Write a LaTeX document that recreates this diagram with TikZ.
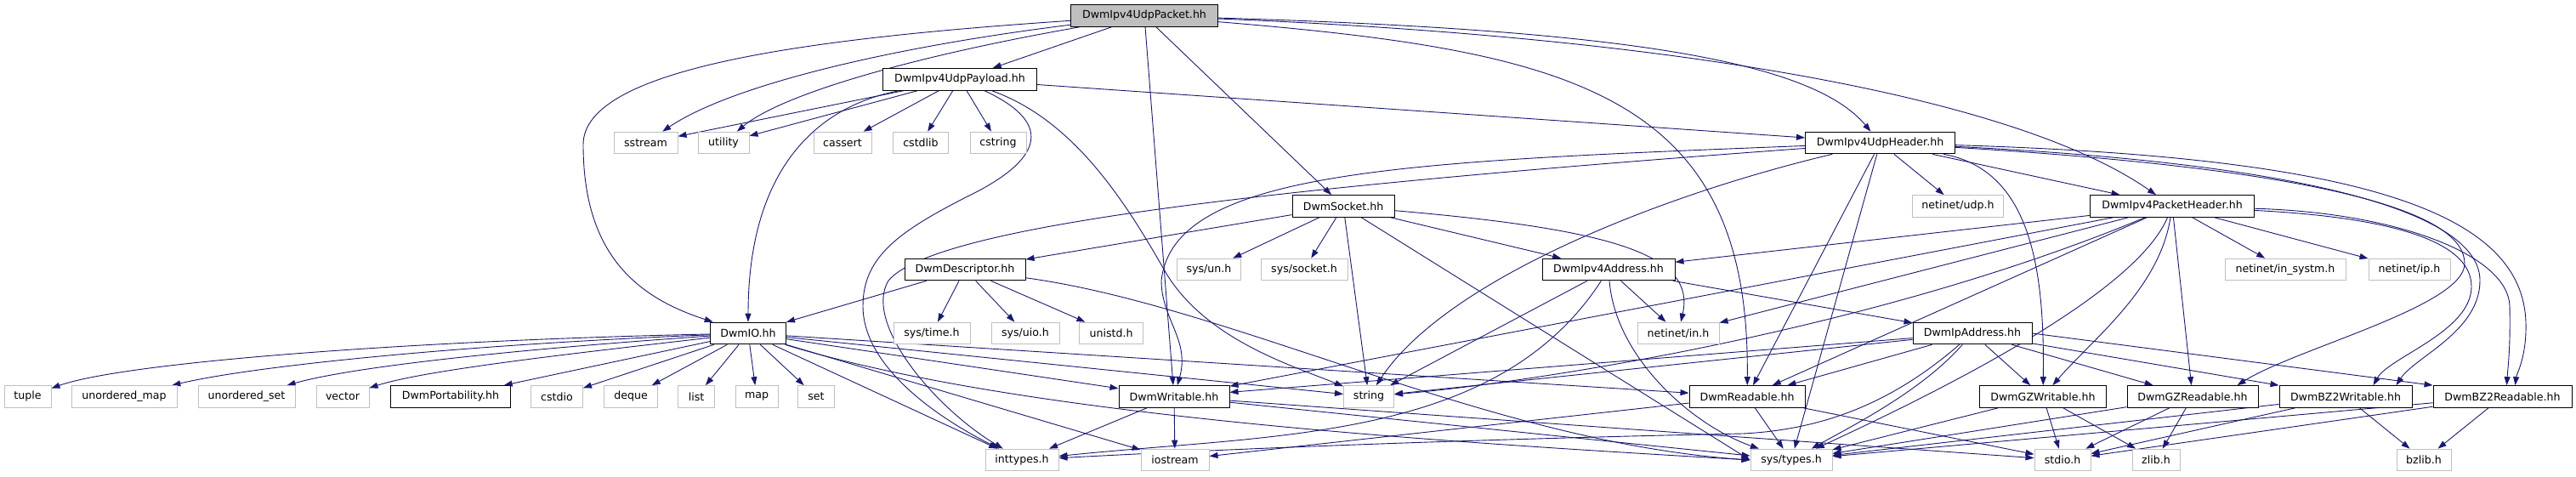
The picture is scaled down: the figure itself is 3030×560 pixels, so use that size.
\documentclass[tikz,border=0pt]{standalone}
\usepackage{fontspec}
\setmainfont{DejaVu Sans}
\usetikzlibrary{arrows.meta}
\definecolor{edgec}{HTML}{191970}
\definecolor{sysb}{HTML}{BFBFBF}
\pgfdeclarelayer{bg}
\pgfsetlayers{bg,main}
\tikzset{
 base/.style={draw, minimum height=25.7pt, inner sep=0pt, font=\fontsize{12.6}{14}\selectfont, line width=1pt},
 sysn/.style={base, draw=sysb, fill=white},
 prj/.style={base, draw=black, fill=white},
 rootn/.style={base, draw=black, fill=sysb},
 dep/.style={draw=edgec, line width=0.9pt, -{Triangle[length=10pt,width=7pt]}}
}
\begin{document}
\begin{tikzpicture}[x=1pt,y=-1pt]
\useasboundingbox (0,0) rectangle (3030,560);
% row 0
\node[rootn, minimum width=173pt] (P) at (1346,18.5) {DwmIpv4UdpPacket.hh};
% row 1
\node[prj, minimum width=181pt] (Pay) at (1129,93.3) {DwmIpv4UdpPayload.hh};
% row 2
\node[sysn, minimum width=75pt] (sstream) at (759.5,168) {sstream};
\node[sysn, minimum width=60pt] (utility) at (851,168) {utility};
\node[sysn, minimum width=68pt] (cassert) at (991,168) {cassert};
\node[sysn, minimum width=65pt] (cstdlib) at (1083,168) {cstdlib};
\node[sysn, minimum width=66pt] (cstring) at (1174,168) {cstring};
\node[prj, minimum width=176pt] (Hdr) at (2211.5,168) {DwmIpv4UdpHeader.hh};
% row 3
\node[prj, minimum width=120pt] (Sock) at (1580,242.5) {DwmSocket.hh};
\node[sysn, minimum width=107pt] (udp) at (2303,242.5) {netinet/udp.h};
\node[prj, minimum width=193pt] (PH) at (2555,242.5) {DwmIpv4PacketHeader.hh};
% row 4
\node[prj, minimum width=142pt] (Desc) at (1135,317) {DwmDescriptor.hh};
\node[sysn, minimum width=75pt] (un) at (1422,317) {sys/un.h};
\node[sysn, minimum width=102pt] (syssock) at (1534,317) {sys/socket.h};
\node[prj, minimum width=156pt] (Ipv4) at (1892,317) {DwmIpv4Address.hh};
\node[sysn, minimum width=142pt] (systm) at (2688,317) {netinet/in\_systm.h};
\node[sysn, minimum width=96pt] (iph) at (2834,317) {netinet/ip.h};
% row 5
\node[prj, minimum width=89pt] (IO) at (880,392) {DwmIO.hh};
\node[sysn, minimum width=90pt] (time) at (1096,392) {sys/time.h};
\node[sysn, minimum width=80pt] (uio) at (1206,392) {sys/uio.h};
\node[sysn, minimum width=75pt] (unistd) at (1307,392) {unistd.h};
\node[sysn, minimum width=96pt] (netin) at (1974,392) {netinet/in.h};
\node[prj, minimum width=140pt] (IpA) at (2320,392) {DwmIpAddress.hh};
% row 6
\node[sysn, minimum width=55pt] (tuple) at (32.5,466.5) {tuple};
\node[sysn, minimum width=124pt] (umap) at (146,466.5) {unordered\_map};
\node[sysn, minimum width=114pt] (uset) at (290,466.5) {unordered\_set};
\node[sysn, minimum width=62pt] (vector) at (403,466.5) {vector};
\node[prj, minimum width=141pt] (Port) at (530,466.5) {DwmPortability.hh};
\node[sysn, minimum width=61pt] (cstdio) at (655,466.5) {cstdio};
\node[sysn, minimum width=63pt] (deque) at (742,466.5) {deque};
\node[sysn, minimum width=43pt] (list) at (819,466.5) {list};
\node[sysn, minimum width=50pt] (mapn) at (890,466.5) {map};
\node[sysn, minimum width=43pt] (setn) at (960,466.5) {set};
\node[prj, minimum width=130pt] (Wr) at (1381,466.5) {DwmWritable.hh};
\node[sysn, minimum width=59pt] (string) at (1610,466.5) {string};
\node[prj, minimum width=136pt] (Rd) at (2055,466.5) {DwmReadable.hh};
\node[prj, minimum width=149pt] (GZW) at (2403,466.5) {DwmGZWritable.hh};
\node[prj, minimum width=154pt] (GZR) at (2579,466.5) {DwmGZReadable.hh};
\node[prj, minimum width=156pt] (BZW) at (2759,466.5) {DwmBZ2Writable.hh};
\node[prj, minimum width=163pt] (BZR) at (2943.5,466.5) {DwmBZ2Readable.hh};
% row 7
\node[sysn, minimum width=86pt] (inttypes) at (1202,541) {inttypes.h};
\node[sysn, minimum width=80pt] (iostream) at (1382,541) {iostream};
\node[sysn, minimum width=96pt] (systypes) at (2107,541) {sys/types.h};
\node[sysn, minimum width=66pt] (stdio) at (2426,541) {stdio.h};
\node[sysn, minimum width=56pt] (zlib) at (2536,541) {zlib.h};
\node[sysn, minimum width=64pt] (bzlib) at (2851,541) {bzlib.h};

\begin{pgfonlayer}{bg}
% DwmIpv4UdpPacket.hh
\draw[dep] (P) -- (Pay);
\draw[dep] (P) .. controls (1050,55) and (860,100) .. (sstream);
\draw[dep] (P) .. controls (1080,65) and (920,110) .. (utility);
\draw[dep] (P) .. controls (950,45) and (686,80) .. (686,170) .. controls (686,300) and (750,350) .. (IO);
\draw[dep] (P) -- (Sock);
\draw[dep] (P) -- (Wr);
\draw[dep] (P) .. controls (1850,60) and (2059,110) .. (Rd);
\draw[dep] (P) .. controls (1900,35) and (2130,70) .. (Hdr);
\draw[dep] (P) .. controls (2000,45) and (2380,120) .. (PH);
% DwmIpv4UdpPayload.hh
\draw[dep] (Pay) -- (sstream);
\draw[dep] (Pay) -- (utility);
\draw[dep] (Pay) -- (cassert);
\draw[dep] (Pay) -- (cstdlib);
\draw[dep] (Pay) -- (cstring);
\draw[dep] (Pay) .. controls (960,125) and (880,200) .. (IO);
\draw[dep] (Pay) .. controls (1230,140) and (1235,180) .. (1150,225) .. controls (1060,270) and (1015,300) .. (1015,360) .. controls (1015,430) and (1100,490) .. (inttypes);
\draw[dep] (Pay) .. controls (1260,140) and (1320,230) .. (1372,322) .. controls (1420,400) and (1520,430) .. (string);
\draw[dep] (Pay) -- (Hdr);
% DwmIpv4UdpHeader.hh
\draw[dep] (Hdr) -- (udp);
\draw[dep] (Hdr) -- (PH);
\draw[dep] (Hdr) .. controls (1950,230) and (1700,330) .. (string);
\draw[dep] (Hdr) -- (Rd);
\draw[dep] (Hdr) -- (systypes);
\draw[dep] (Hdr) .. controls (1650,190) and (1380,200) .. (1366,330) .. controls (1366,375) and (1400,400) .. (Wr);
\draw[dep] (Hdr) .. controls (1500,220) and (1100,265) .. (1045,330) .. controls (1015,380) and (1100,480) .. (inttypes);
\draw[dep] (Hdr) .. controls (2390,200) and (2405,320) .. (GZW);
\draw[dep] (Hdr) .. controls (2740,200) and (2899,250) .. (2899,310) .. controls (2899,360) and (2700,410) .. ([xshift=-25pt]GZR.north east);
\draw[dep] (Hdr) .. controls (2760,195) and (2917,260) .. (2917,330) .. controls (2917,390) and (2840,420) .. ([xshift=-19pt]BZW.north east);
\draw[dep] (Hdr) .. controls (2780,185) and (2968,250) .. (2971,380) .. controls (2972,420) and (2960,440) .. ([xshift=15pt]BZR.north);
% DwmSocket.hh
\draw[dep] (Sock) -- (Desc);
\draw[dep] (Sock) -- (un);
\draw[dep] (Sock) -- (syssock);
\draw[dep] (Sock) -- (string);
\draw[dep] (Sock) -- (systypes.west);
\draw[dep] (Sock) -- (Ipv4);
\draw[dep] (Sock) .. controls (1900,270) and (1995,300) .. (netin);
% DwmIpv4PacketHeader.hh
\draw[dep] (PH) -- (Ipv4);
\draw[dep] (PH) -- (netin);
\draw[dep] (PH) -- (systm);
\draw[dep] (PH) -- (iph);
\draw[dep] (PH) -- (Wr);
\draw[dep] (PH) .. controls (2200,390) and (1800,450) .. (string);
\draw[dep] (PH) -- (Rd);
\draw[dep] (PH) -- (GZR);
\draw[dep] (PH) .. controls (2510,350) and (2260,470) .. (systypes);
\draw[dep] (PH) .. controls (2540,340) and (2460,400) .. (GZW);
\draw[dep] (PH) .. controls (2800,255) and (2907,280) .. (2907,337) .. controls (2907,390) and (2810,420) .. ([xshift=-46pt]BZW.north east);
\draw[dep] (PH) .. controls (2820,250) and (2950,300) .. (2952,360) .. controls (2953,410) and (2950,430) .. ([xshift=5pt]BZR.north);
% DwmDescriptor.hh
\draw[dep] (Desc) -- (IO);
\draw[dep] (Desc) -- (time);
\draw[dep] (Desc) -- (uio);
\draw[dep] (Desc) -- (unistd);
\draw[dep] (Desc) .. controls (1450,360) and (1750,520) .. (systypes.west);
% DwmIpv4Address.hh
\draw[dep] (Ipv4) -- (string);
\draw[dep] (Ipv4) -- (netin);
\draw[dep] (Ipv4) -- (IpA);
\draw[dep] (Ipv4) .. controls (1900,420) and (1990,500) .. (systypes);
\draw[dep] (Ipv4) .. controls (1760,520) and (1500,510) .. (inttypes);
% DwmIpAddress.hh
\draw[dep] (IpA) -- (Wr);
\draw[dep] (IpA) -- (string);
\draw[dep] (IpA) -- (Rd);
\draw[dep] (IpA) -- (GZW);
\draw[dep] (IpA) -- (GZR);
\draw[dep] (IpA) -- (BZW);
\draw[dep] (IpA.east) -- (BZR.north west);
\draw[dep] (IpA) .. controls (2230,470) and (2150,505) .. (2050,510) .. controls (1800,515) and (1500,525) .. (inttypes);
\draw[dep] (IpA) .. controls (2260,460) and (2180,500) .. (systypes);
% DwmIO.hh
\draw[dep] (IO) .. controls (500,400) and (150,425) .. (tuple);
\draw[dep] (IO) .. controls (550,405) and (300,430) .. (umap);
\draw[dep] (IO) .. controls (620,410) and (420,430) .. (uset);
\draw[dep] (IO) .. controls (680,415) and (500,435) .. (vector);
\draw[dep] (IO) -- (Port);
\draw[dep] (IO) -- (cstdio);
\draw[dep] (IO) -- (deque);
\draw[dep] (IO) -- (list);
\draw[dep] (IO) -- (mapn);
\draw[dep] (IO) -- (setn);
\draw[dep] (IO) -- (Wr);
\draw[dep] (IO) -- (string);
\draw[dep] (IO) -- (Rd);
\draw[dep] (IO) .. controls (1200,490) and (1700,520) .. (systypes.west);
\draw[dep] (IO) -- (inttypes);
\draw[dep] (IO) -- (iostream);
% DwmWritable.hh
\draw[dep] (Wr) -- (inttypes);
\draw[dep] (Wr) -- (iostream);
\draw[dep] (Wr) -- (systypes);
\draw[dep] (Wr) -- (stdio);
% DwmReadable.hh
\draw[dep] (Rd) -- (iostream);
\draw[dep] (Rd) -- (systypes);
\draw[dep] (Rd) -- (stdio);
% compression
\draw[dep] (GZW) -- (systypes);
\draw[dep] (GZW) -- (stdio);
\draw[dep] (GZW) -- (zlib);
\draw[dep] (GZR) -- (systypes);
\draw[dep] (GZR) -- (stdio);
\draw[dep] (GZR) -- (zlib);
\draw[dep] (BZW) -- (systypes);
\draw[dep] (BZW) -- (stdio);
\draw[dep] (BZW) -- (bzlib);
\draw[dep] (BZR) -- (systypes);
\draw[dep] (BZR) -- (stdio);
\draw[dep] (BZR) -- (bzlib);
\end{pgfonlayer}
\end{tikzpicture}
\end{document}
